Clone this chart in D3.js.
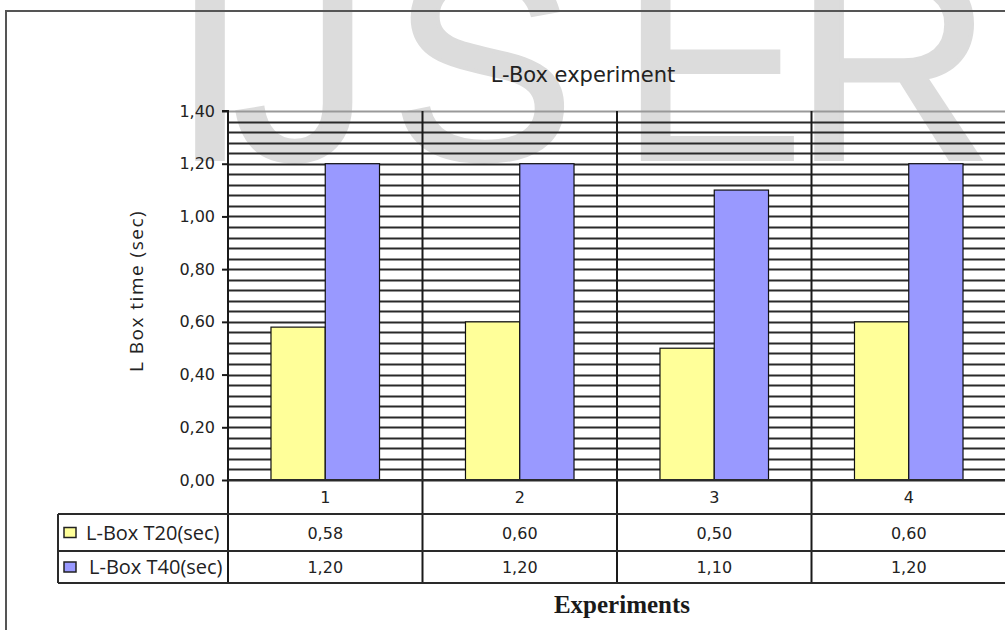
<!DOCTYPE html>
<html>
<head>
<meta charset="utf-8">
<script src="https://cdn.jsdelivr.net/npm/d3@7/dist/d3.min.js"></script>
<style>
  html, body { margin: 0; padding: 0; background: #fff; }
  svg { display: block; }
</style>
</head>
<body>
<svg id="chart" width="1005" height="630"></svg>
<script>
// Chart data
const categories = ["1", "2", "3", "4"];
const seriesNames = ["L-Box T20(sec)", "L-Box T40(sec)"];
const t20Values = [0.58, 0.60, 0.50, 0.60];
const t40Values = [1.20, 1.20, 1.10, 1.20];
const yTickValues = [0, 0.2, 0.4, 0.6, 0.8, 1.0, 1.2, 1.4];
const watermarkLetters = ["I", "J", "S", "E", "R"];

const seriesColors = ["#FFFF99", "#9999FF"];
const seriesData = [t20Values, t40Values];
const commaFmt = v => d3.format(".2f")(v).replace(".", ",");

const svg = d3.select("#chart");

// Layout
const plot = { left: 228, right: 1006, top: 111, bottom: 480 };
const table = { legendLeft: 58, row1: 514, row2: 551, row3: 583 };

// Watermark behind everything
const wmX = [210, 302, 483, 712, 893];
svg.append("g")
  .selectAll("text")
  .data(watermarkLetters)
  .join("text")
  .attr("x", (d, i) => wmX[i])
  .attr("y", 159)
  .attr("text-anchor", "middle")
  .attr("font-family", "Liberation Sans, Arial, sans-serif")
  .attr("font-size", 275)
  .attr("fill", "#dcdcdc")
  .attr("stroke", "#dcdcdc")
  .attr("stroke-width", 4)
  .text(d => d);

// Outer chart frame
svg.append("rect")
  .attr("x", 6).attr("y", 11)
  .attr("width", 1100).attr("height", 700)
  .attr("fill", "none")
  .attr("stroke", "#555")
  .attr("stroke-width", 2);

// Scales
const x = d3.scaleBand().domain(categories).range([plot.left, plot.right]).paddingInner(0).paddingOuter(0);
const groupPad = 0.221;
const xInner = d3.scaleBand().domain(d3.range(seriesNames.length))
  .range([x.bandwidth() * groupPad, x.bandwidth() * (1 - groupPad)]);
const y = d3.scaleLinear().domain([0, 1.4]).range([plot.bottom, plot.top]);

// Horizontal gridlines every 0.04
const gridValues = d3.range(0, 1.4 + 1e-9, 0.04);
svg.append("g")
  .selectAll("line")
  .data(gridValues)
  .join("line")
  .attr("x1", plot.left).attr("x2", plot.right)
  .attr("y1", d => Math.round(y(d)) + 0.5)
  .attr("y2", d => Math.round(y(d)) + 0.5)
  .attr("stroke", (d, i) => i === gridValues.length - 1 ? "#999" : "#2a2a2a")
  .attr("stroke-width", 2);

// Category separators through plot and data table
svg.append("g")
  .selectAll("line")
  .data(categories.slice(1))
  .join("line")
  .attr("x1", d => x(d)).attr("x2", d => x(d))
  .attr("y1", plot.top).attr("y2", table.row3)
  .attr("stroke", "#1a1a1a")
  .attr("stroke-width", 2);

// Bars
const groups = svg.append("g")
  .selectAll("g")
  .data(categories)
  .join("g")
  .attr("transform", d => `translate(${x(d)},0)`);

groups.selectAll("rect")
  .data((c, ci) => seriesData.map((s, si) => ({ si, v: s[ci] })))
  .join("rect")
  .attr("x", d => xInner(d.si))
  .attr("width", xInner.bandwidth())
  .attr("y", d => y(d.v))
  .attr("height", d => y(0) - y(d.v))
  .attr("fill", d => seriesColors[d.si])
  .attr("stroke", "#111")
  .attr("stroke-width", 1.2);

// Y axis
const yAxis = d3.axisLeft(y).tickValues(yTickValues).tickSize(6).tickPadding(7).tickFormat(commaFmt);
const yg = svg.append("g").attr("transform", `translate(${plot.left},0)`).call(yAxis);
yg.select(".domain").attr("stroke", "#1a1a1a").attr("stroke-width", 2).attr("d", `M-6,${plot.top}H0V${table.row3}`);
yg.selectAll(".tick line").attr("stroke", "#1a1a1a").attr("stroke-width", 2);
yg.selectAll(".tick text")
  .attr("font-family", "DejaVu Sans, Verdana, sans-serif")
  .attr("font-size", 16)
  .attr("fill", "#222");

// Data table lines
const tbl = svg.append("g").attr("stroke", "#2a2a2a").attr("stroke-width", 2).attr("fill", "none");
tbl.append("line").attr("x1", plot.left).attr("x2", plot.right).attr("y1", plot.bottom).attr("y2", plot.bottom);
[table.row1, table.row2, table.row3].forEach(yy => {
  tbl.append("line").attr("x1", table.legendLeft).attr("x2", plot.right).attr("y1", yy).attr("y2", yy);
});
tbl.append("line").attr("x1", table.legendLeft).attr("x2", table.legendLeft).attr("y1", table.row1).attr("y2", table.row3);

// Category labels
svg.append("g")
  .selectAll("text")
  .data(categories)
  .join("text")
  .attr("x", d => x(d) + x.bandwidth() / 2)
  .attr("y", (plot.bottom + table.row1) / 2 + 6)
  .attr("text-anchor", "middle")
  .attr("font-family", "DejaVu Sans, Verdana, sans-serif")
  .attr("font-size", 16)
  .attr("fill", "#222")
  .text(d => d);

// Data table rows: legend key, series name, values
const rowTops = [table.row1, table.row2];
const rowBottoms = [table.row2, table.row3];
seriesNames.forEach((name, si) => {
  const cy = (rowTops[si] + rowBottoms[si]) / 2;
  svg.append("rect")
    .attr("x", 64).attr("y", cy - 5)
    .attr("width", 12).attr("height", 10)
    .attr("fill", seriesColors[si])
    .attr("stroke", "#222").attr("stroke-width", 1.5);
  svg.append("text")
    .attr("x", 86 + si * 3).attr("y", cy + 7)
    .attr("font-family", "Open Sans, sans-serif")
    .attr("font-size", 20)
    .attr("fill", "#222")
    .text(name);
  svg.append("g")
    .selectAll("text")
    .data(categories)
    .join("text")
    .attr("x", d => x(d) + x.bandwidth() / 2)
    .attr("y", cy + 6)
    .attr("text-anchor", "middle")
    .attr("font-family", "DejaVu Sans, Verdana, sans-serif")
    .attr("font-size", 16)
    .attr("fill", "#222")
    .text((d, ci) => commaFmt(seriesData[si][ci]));
});

// Titles
svg.append("text")
  .attr("x", 583).attr("y", 82)
  .attr("text-anchor", "middle")
  .attr("font-family", "DejaVu Sans, Verdana, sans-serif")
  .attr("font-size", 21)
  .attr("fill", "#222")
  .text("L-Box experiment");

svg.append("text")
  .attr("transform", "translate(143,291) rotate(-90)")
  .attr("text-anchor", "middle")
  .attr("font-family", "Open Sans, sans-serif")
  .attr("font-size", 19)
  .attr("letter-spacing", 1.5)
  .attr("fill", "#222")
  .text("L Box time (sec)");

svg.append("text")
  .attr("x", 622).attr("y", 613)
  .attr("text-anchor", "middle")
  .attr("font-family", "Liberation Serif, Times New Roman, serif")
  .attr("font-weight", "bold")
  .attr("font-size", 25)
  .attr("fill", "#1a1a1a")
  .text("Experiments");
</script>
</body>
</html>
